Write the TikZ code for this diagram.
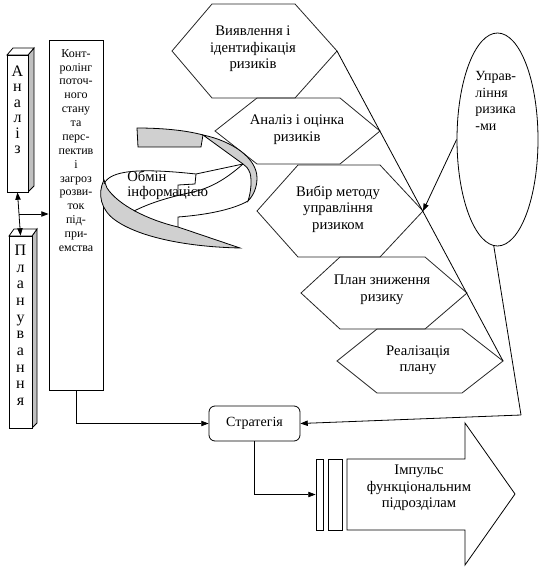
\documentclass[tikz,border=0pt]{standalone}
\usepackage{fontspec}
\setmainfont{Liberation Serif}
\usetikzlibrary{arrows.meta,shapes.geometric}
\definecolor{strichka}{RGB}{208,208,208}
\definecolor{bichna}{RGB}{192,192,192}

\tikzset{
  strilka/.style={-{Triangle[length=5.5pt,width=4pt]}},
  shestykut/.style={draw=black!85},
  tekst/.style={inner sep=0pt, align=center, font=\fontsize{11}{12.4}\selectfont},
  litery/.style={anchor=north, inner sep=0pt, align=center, font=\fontsize{12}{11.6}\selectfont},
  brus/.style={draw, fill=white, inner sep=0pt}
}

\begin{document}
\begin{tikzpicture}[x=0.75pt, y=-0.75pt, line width=0.6pt]
  \useasboundingbox (0,0) rectangle (548,570);

  % Аналіз
  \filldraw[fill=bichna] (28,55) -- (34,48) -- (34,186) -- (28,192) -- cycle;
  \filldraw[fill=white] (7,55) -- (13,48) -- (34,48) -- (28,55) -- cycle;
  \node[brus, minimum width=15.75pt, minimum height=102.75pt] (analiz) at (17.5,123.5) {};
  \node[litery] (analiztxt) at (17.5,65.5) {А\\н\\а\\л\\і\\з};

  % Планування
  \filldraw[fill=bichna] (32,236) -- (37,229) -- (37,423) -- (32,428) -- cycle;
  \filldraw[fill=white] (9,236) -- (14,229) -- (37,229) -- (32,236) -- cycle;
  \node[brus, minimum width=17.25pt, minimum height=144pt] (planuv) at (20.5,332) {};
  \node[litery, font=\fontsize{12}{12.5}\selectfont] (planuvtxt) at (20.5,244.7) {П\\л\\а\\н\\у\\в\\а\\н\\н\\я};

  % Контролінг
  \node[draw, minimum width=40.5pt, minimum height=262.5pt] (kontrol) at (76,215) {};
  \node[anchor=north, align=center, inner sep=0pt, font=\fontsize{9}{10.4}\selectfont] (kontroltxt) at (76,49)
    {Конт-\\ролінг\\поточ-\\ного\\стану\\та\\перс-\\пектив\\і\\загроз\\розви-\\ток\\під-\\при-\\емства};

  \draw[{Triangle[length=5.5pt,width=4pt]}-{Triangle[length=5.5pt,width=4pt]}] (analiz.south) -- coordinate (vmid) (planuv.north);
  \draw[strilka] (vmid) -- (vmid -| kontrol.west);

  % Шестикутники
  \coordinate (h1r) at (337,51);
  \coordinate (h2r) at (380,131);
  \coordinate (h3r) at (423,211);
  \coordinate (h4r) at (467,293);
  \coordinate (h5r) at (503,361);
  \draw[shestykut] (172,51) -- (212,4) -- (295,4) -- (h1r) -- (295,98) -- (212,98) -- cycle;
  \draw[shestykut] (215,131) -- (257,98) -- (340,98) -- (h2r) -- (340,164) -- (257,164) -- cycle;
  \draw[shestykut] (257,211) -- (298,165) -- (380,165) -- (h3r) -- (380,257) -- (298,257) -- cycle;
  \draw[shestykut] (301,293) -- (340,257) -- (425,257) -- (h4r) -- (425,329) -- (340,329) -- cycle;
  \draw[shestykut] (337,361) -- (377,329) -- (462,329) -- (h5r) -- (462,393) -- (377,393) -- cycle;
  \node[tekst] (vyjav) at (253,49) {Виявлення і\\ідентифікація\\ризиків};
  \node[tekst] (ocinka) at (297,129.5) {Аналіз і оцінка\\ризиків};
  \node[tekst] (vybir) at (338,209) {Вибір методу\\управління\\ризиком};
  \node[tekst] (plan) at (382,290) {План зниження\\ризику};
  \node[tekst] (realiz) at (418,360) {Реалізація\\плану};
  \draw (h1r) -- (h5r);

  % Стрічка обміну інформацією
  \filldraw[fill=strichka] (137,128) .. controls (160,128) and (185,130) .. (203,135) -- (201,147) -- (138,147) -- cycle;
  \filldraw[fill=strichka] (203,135) .. controls (232,141) and (257,158) .. (257,178) .. controls (257,188) and (253,196) .. (248,201)
    .. controls (251,192) and (252,180) .. (250,173) .. controls (248,168) and (246,166) .. (243,164) -- cycle;
  \filldraw[fill=strichka] (104,180) .. controls (97,194) and (101,210) .. (115,220) .. controls (140,238) and (190,247) .. (240,248)
    -- (178,227) .. controls (148,220) and (118,205) .. (107,188) -- cycle;
  \draw (248,201) .. controls (232,210) and (205,215) .. (178,217) -- (178,227);
  \draw (104,184) .. controls (110,170) and (140,168) .. (196,174) -- (243,164);
  \draw (196,174) -- (195,184) -- (178,185) -- (178,196);
  \draw (243,164) .. controls (225,180) and (210,188) .. (193,192) .. controls (165,198) and (148,204) .. (134,211);
  \node[anchor=north west, align=left, inner sep=0pt, font=\fontsize{11}{11.3}\selectfont] (obmin) at (127,171) {Обмін\\інформацією};

  % Управління ризиками
  \node[draw, ellipse, minimum width=60.75pt, minimum height=159.75pt, inner sep=0pt] (upravl) at (497.5,139.5) {};
  \node[anchor=north west, align=left, inner sep=0pt, font=\fontsize{10.5}{12.5}\selectfont] (upravltxt) at (475,71) {Управ-\\ління\\ризика\\-ми};
  \draw[strilka] (upravl.west) -- (h3r);

  % Стратегія
  \node[draw, rounded corners=4.5pt, minimum width=68.25pt, minimum height=26.25pt, inner sep=0pt,
    font=\fontsize{10.5}{12}\selectfont] (strateg) at (254.5,423.5) {Стратегія};
  \coordinate (zlam) at (521,415);
  \draw (upravl.268) -- (zlam);
  \draw[strilka] (zlam) -- (strateg.east);
  \draw[strilka] (kontrol.south) |- (strateg.west);

  % Імпульс
  \node[draw, minimum width=5.25pt, minimum height=53.25pt, inner sep=0pt] (smuga1) at (319.5,494.5) {};
  \node[draw, minimum width=10.5pt, minimum height=53.25pt, inner sep=0pt] (smuga2) at (335,494.5) {};
  \draw[strilka] (strateg.south) |- (smuga1.west);
  \draw (347,459) -- (465,459) -- (465,423) -- (515,494) -- (465,565) -- (465,530) -- (347,530) -- cycle;
  \node[tekst] (impuls) at (419,488) {Імпульс\\функціональним\\підрозділам};
\end{tikzpicture}
\end{document}
